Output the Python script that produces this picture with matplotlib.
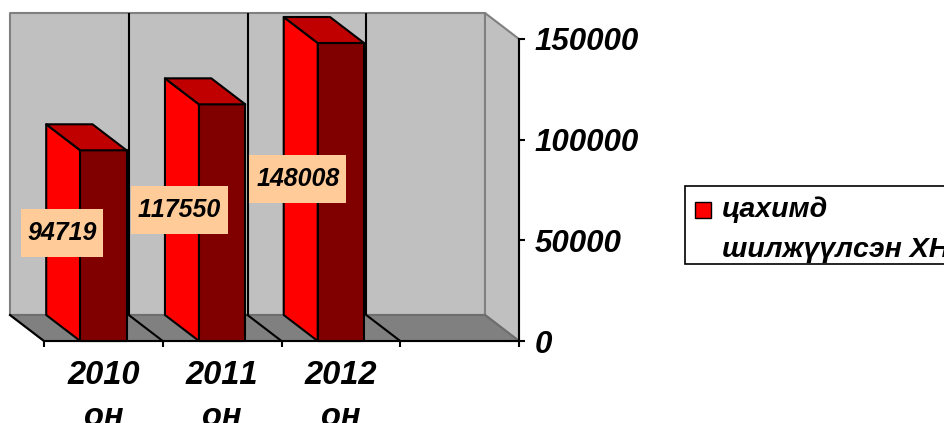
import matplotlib
matplotlib.use("Agg")
import matplotlib.pyplot as plt
from matplotlib.patches import Polygon, Rectangle

plt.rcParams['font.family'] = ['Liberation Sans', 'DejaVu Sans']
plt.rcParams['text.kerning_factor'] = 6

years = ["2010\nон", "2011\nон", "2012\nон"]
values = [94719, 117550, 148008]
y_ticks = [0, 50000, 100000, 150000]
legend_lines = ["цахимд", "шилжүүлсэн ХН"]

W, H = 945, 423
# Axes rectangle in pixels
LEFT, RIGHT, TOP, BOTTOM = 44, 519, 39, 341
# Depth of the fake 3D box in pixels
DEPTH_X_PX, DEPTH_Y_PX = 34, 26

fig = plt.figure(figsize=(W / 100, H / 100), dpi=100)
ax = fig.add_axes([LEFT / W, 1 - BOTTOM / H, (RIGHT - LEFT) / W, (BOTTOM - TOP) / H])
ax.set_xlim(0, 4)
ax.set_ylim(0, 150000)
ax.patch.set_visible(False)

# Data units per pixel
ux = 4 / (RIGHT - LEFT)
uy = 150000 / (BOTTOM - TOP)
dx = DEPTH_X_PX * ux
dy = DEPTH_Y_PX * uy
lw = 1.5


def poly(points, face, edge, z, width=lw):
    ax.add_patch(Polygon(points, closed=True, facecolor=face, edgecolor=edge,
                         linewidth=width, zorder=z, clip_on=False, joinstyle='round'))


# Walls and floor
poly([(-dx, dy), (4 - dx, dy), (4 - dx, 150000 + dy), (-dx, 150000 + dy)], '#c0c0c0', '#808080', 1)
poly([(4 - dx, dy), (4, 0), (4, 150000), (4 - dx, 150000 + dy)], '#c0c0c0', '#808080', 1)
poly([(-dx, dy), (4 - dx, dy), (4, 0), (0, 0)], '#808080', '#6e6e6e', 1.1)

# Divider lines running up the back wall and across the floor
for i in range(1, 4):
    ax.plot([i - dx, i - dx], [dy, 150000 + dy], color='black', lw=lw, zorder=1.2,
            clip_on=False, solid_capstyle='butt')
for i in range(0, 4):
    ax.plot([i - dx, i], [dy, 0], color='black', lw=lw, zorder=1.2, clip_on=False)

# Bars
bar_w = 0.39
for i, v in enumerate(values):
    x0 = i + 0.5 - bar_w / 2
    x1 = x0 + bar_w
    poly([(x0 - dx, dy), (x0, 0), (x0, v), (x0 - dx, v + dy)], '#ff0000', 'black', 3)
    poly([(x0, 0), (x1, 0), (x1, v), (x0, v)], '#800000', 'black', 3.1)
    poly([(x0, v), (x1, v), (x1 - dx, v + dy), (x0 - dx, v + dy)], '#c00000', 'black', 3.2)

# Value labels on peach boxes
box_h = 48 * uy
for i, v in enumerate(values):
    label = str(v)
    cx = i + 0.5 - (41 + 2 * (len(label) - 5)) * ux
    cy = v / 2 + dy / 2
    box_w = (len(label) * 15 + 7) * ux
    ax.add_patch(Rectangle((cx - box_w / 2, cy - box_h / 2), box_w, box_h, facecolor='#ffcc99',
                           edgecolor='none', zorder=4, clip_on=False))
    ax.text(cx, cy, label, ha='center', va='center', fontsize=18, fontweight='bold',
            fontstyle='italic', color='black', zorder=5)

# Axes: category ticks below, value scale on the right
for side in ['top', 'left']:
    ax.spines[side].set_visible(False)
for side in ['bottom', 'right']:
    ax.spines[side].set_linewidth(1.5)
    ax.spines[side].set_zorder(2.5)
ax.yaxis.tick_right()
ax.set_yticks(y_ticks)
ax.set_yticklabels([str(t) for t in y_ticks], fontsize=22.5, fontweight='bold', fontstyle='italic')
ax.tick_params(axis='y', length=4, width=1.5, pad=7)
ax.set_xticks(range(5))
ax.set_xticklabels([])
ax.set_xticks([i + 0.5 for i in range(len(years))], minor=True)
ax.set_xticklabels(years, minor=True, fontsize=23.5, fontweight='bold', fontstyle='italic', linespacing=1.45)
ax.tick_params(axis='x', which='major', length=4, width=1.5)
ax.tick_params(axis='x', which='minor', length=0, pad=14)

# Legend box runs off the right side of the figure
fig.add_artist(Rectangle((685 / W, 1 - 264 / H), 280 / W, 78 / H, transform=fig.transFigure,
                         facecolor='white', edgecolor='black', linewidth=1.2))
fig.add_artist(Rectangle((695 / W, 1 - 218 / H), 16 / W, 16 / H, transform=fig.transFigure,
                         facecolor='#ff0000', edgecolor='black', linewidth=1))
for line, ypos in zip(legend_lines, [210, 250]):
    fig.text(722 / W, 1 - ypos / H, line, fontsize=20.5, fontweight='bold', fontstyle='italic',
             va='center', ha='left')

fig.savefig("out.png", dpi=100)
